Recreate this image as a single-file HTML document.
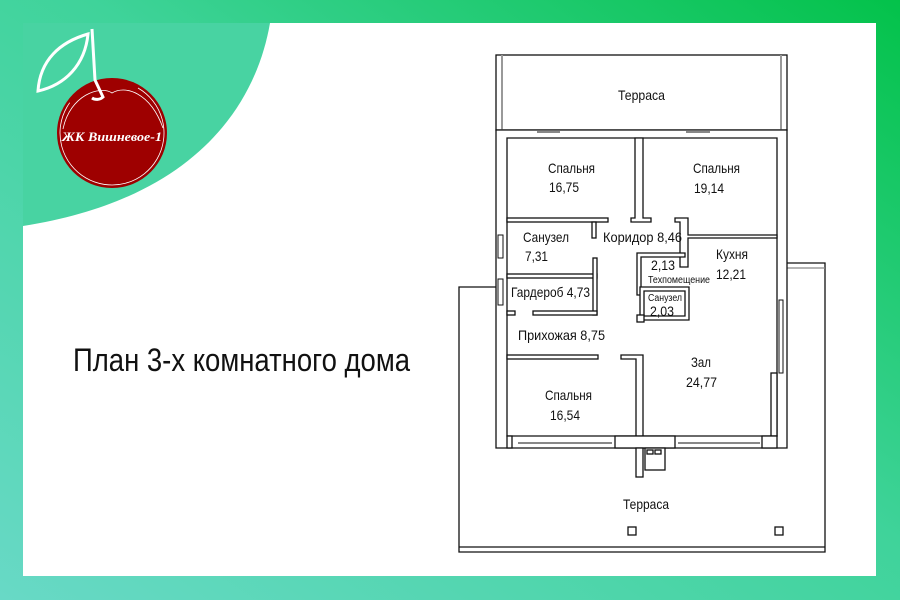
<!DOCTYPE html>
<html><head><meta charset="utf-8"><style>
html,body{margin:0;padding:0;width:900px;height:600px;overflow:hidden}
</style></head><body>
<svg width="900" height="600" viewBox="0 0 900 600" xmlns="http://www.w3.org/2000/svg" font-family="Liberation Sans, sans-serif">
<defs>
<linearGradient id="g" x1="0" y1="1" x2="1" y2="0">
<stop offset="0" stop-color="#68d9c6"/>
<stop offset="0.55" stop-color="#3fd39a"/>
<stop offset="1" stop-color="#03c24a"/>
</linearGradient>
</defs>
<rect width="900" height="600" fill="url(#g)"/>
<rect x="23" y="23" width="853" height="553" fill="#fff"/>
<path d="M23,23 L270,23 C255,110 190,200 23,226 Z" fill="#48d3a2"/>
<!-- logo -->
<circle cx="112" cy="133" r="55" fill="#9e0000"/>
<path d="M63,129 C70,95 100,85 112,93 C125,85 150,92 163,128" fill="none" stroke="#fff" stroke-width="0.8"/>
<circle cx="112" cy="133" r="52" fill="none" stroke="#fff" stroke-width="0.8" stroke-dasharray="250 80" transform="rotate(-60 112 133)"/>
<path d="M92,29 L95,80 L103,97 C100,100 95,100 92,98" fill="none" stroke="#fff" stroke-width="3"/>
<path d="M88,34 C60,42 40,60 38,91 C65,85 85,65 88,34 Z" fill="none" stroke="#fff" stroke-width="3"/>
<text x="112" y="141" font-size="13" font-style="italic" font-weight="bold" fill="#fff" text-anchor="middle" textLength="100" lengthAdjust="spacingAndGlyphs" font-family="Liberation Serif, serif">ЖК Вишневое-1</text>
<!-- title -->
<text x="73" y="371" font-size="32" fill="#111" textLength="337" lengthAdjust="spacingAndGlyphs">План 3-х комнатного дома</text>
<!-- plan -->
<g fill="none" stroke="#111" stroke-width="1.3">
<rect x="496" y="55" width="291" height="75"/>
<line x1="502" y1="55" x2="502" y2="130" stroke="#999" stroke-width="2"/>
<line x1="781" y1="55" x2="781" y2="130" stroke="#999" stroke-width="2"/>
<!-- lower terrace -->
<path d="M496,287 L459,287 L459,552 L825,552 L825,263 L787,263"/>
<line x1="459" y1="547" x2="825" y2="547"/>
<line x1="787" y1="268" x2="825" y2="268" stroke="#888"/>
<!-- house outer -->
<path d="M496,130 H787 V448 H496 Z M507,138 V436 H777 V138 Z" fill="#fff" fill-rule="evenodd"/>
<!-- internal walls -->
<g fill="#fff">
<path d="M635,138 H643 V218 H651 V222 H631 V218 H635 Z"/>
<rect x="507" y="218" width="101" height="4"/>
<rect x="592" y="222" width="4" height="16"/>
<path d="M675,218 H688 V235 H777 V238 H688 V267 H680 V222 H675 Z"/>
<rect x="507" y="274" width="90" height="4"/>
<rect x="593" y="258" width="4" height="57"/>
<rect x="533" y="311" width="64" height="4"/>
<rect x="507" y="311" width="8" height="4"/>
<path d="M637,253 H685 V257 H641 V295 H637 Z"/>
<path d="M640,287 H689 V320 H640 Z M644,291 V316 H685 V291 Z" fill-rule="evenodd"/>
<rect x="637" y="315" width="7" height="7"/>
<rect x="507" y="355" width="91" height="4"/>
<path d="M621,355 H643 V436 H636 V359 H621 Z"/>
<rect x="771" y="373" width="6" height="63"/>
<rect x="507" y="436" width="5" height="12"/>
<rect x="615" y="436" width="60" height="12"/>
<rect x="762" y="436" width="15" height="12"/>
<rect x="636" y="448" width="7" height="29"/>
<rect x="645" y="448" width="20" height="22"/>
<rect x="647" y="450" width="6" height="4"/>
<rect x="655" y="450" width="6" height="4"/>
</g>
<!-- windows -->
<g stroke-width="1">
<line x1="518" y1="443" x2="612" y2="443"/>
<line x1="678" y1="443" x2="760" y2="443"/>
<line x1="537" y1="132" x2="560" y2="132"/>
<line x1="686" y1="132" x2="710" y2="132"/>
<line x1="540" y1="131" x2="590" y2="131" stroke="#fff" stroke-width="0"/>
<rect x="498" y="235" width="5" height="23" fill="#fff"/>
<rect x="498" y="279" width="5" height="26" fill="#fff"/>
<rect x="779" y="300" width="4" height="73" fill="#fff"/>
</g>
<rect x="628" y="527" width="8" height="8" fill="#fff"/>
<rect x="775" y="527" width="8" height="8" fill="#fff"/>
</g>
<g font-size="14" fill="#111" lengthAdjust="spacingAndGlyphs">
<text x="618" y="100" textLength="47" lengthAdjust="spacingAndGlyphs">Терраса</text>
<text x="548" y="173" textLength="47" lengthAdjust="spacingAndGlyphs">Спальня</text>
<text x="549" y="192" textLength="30" lengthAdjust="spacingAndGlyphs">16,75</text>
<text x="693" y="173" textLength="47" lengthAdjust="spacingAndGlyphs">Спальня</text>
<text x="694" y="193" textLength="30" lengthAdjust="spacingAndGlyphs">19,14</text>
<text x="523" y="242" textLength="46" lengthAdjust="spacingAndGlyphs">Санузел</text>
<text x="525" y="261" textLength="23" lengthAdjust="spacingAndGlyphs">7,31</text>
<text x="603" y="242" textLength="79" lengthAdjust="spacingAndGlyphs">Коридор  8,46</text>
<text x="716" y="259" textLength="32" lengthAdjust="spacingAndGlyphs">Кухня</text>
<text x="716" y="279" textLength="30" lengthAdjust="spacingAndGlyphs">12,21</text>
<text x="651" y="270" textLength="24" lengthAdjust="spacingAndGlyphs">2,13</text>
<text x="648" y="283" font-size="10" textLength="62" lengthAdjust="spacingAndGlyphs">Техпомещение</text>
<text x="648" y="301" font-size="10" textLength="34" lengthAdjust="spacingAndGlyphs">Санузел</text>
<text x="650" y="316" textLength="24" lengthAdjust="spacingAndGlyphs">2,03</text>
<text x="511" y="297" textLength="79" lengthAdjust="spacingAndGlyphs">Гардероб 4,73</text>
<text x="518" y="340" textLength="87" lengthAdjust="spacingAndGlyphs">Прихожая 8,75</text>
<text x="691" y="367" textLength="20" lengthAdjust="spacingAndGlyphs">Зал</text>
<text x="686" y="387" textLength="31" lengthAdjust="spacingAndGlyphs">24,77</text>
<text x="545" y="400" textLength="47" lengthAdjust="spacingAndGlyphs">Спальня</text>
<text x="550" y="420" textLength="30" lengthAdjust="spacingAndGlyphs">16,54</text>
<text x="623" y="509" textLength="46" lengthAdjust="spacingAndGlyphs">Терраса</text>
</g>
</svg>
</body></html>
